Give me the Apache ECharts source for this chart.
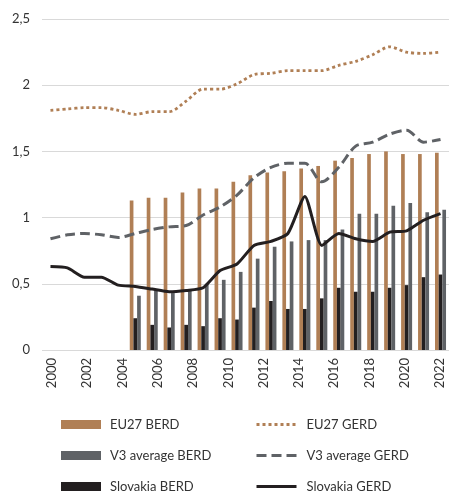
<!DOCTYPE html>
<html>
<head>
<meta charset="utf-8">
<script src="https://cdn.jsdelivr.net/npm/echarts@6/dist/echarts.min.js"></script>
<style>
  html, body { margin: 0; padding: 0; background: #fff; }
  #main_container { width: 449px; height: 494px; }
</style>
</head>
<body>
<div id="main_container"></div>
<script>
// data years (lines 2000-2023, bars from 2005)
var years = ["2000", "2001", "2002", "2003", "2004", "2005", "2006", "2007", "2008", "2009", "2010", "2011",
  "2012", "2013", "2014", "2015", "2016", "2017", "2018", "2019", "2020", "2021", "2022", "2023"];
// tick labels shown under the chart
var tickYears = ["2000", "2001", "2002", "2003", "2004", "2005", "2006", "2007", "2008", "2009", "2010", "2011",
  "2012", "2013", "2014", "2015", "2016", "2017", "2018", "2019", "2020", "2021", "2022"];

var eu27Berd = ["-", "-", "-", "-", "-", 1.13, 1.15, 1.15, 1.19, 1.22, 1.22, 1.27,
  1.32, 1.34, 1.35, 1.37, 1.39, 1.43, 1.45, 1.48, 1.50, 1.48, 1.48, 1.49];
var v3Berd = ["-", "-", "-", "-", "-", 0.41, 0.45, 0.43, 0.45, 0.50, 0.53, 0.59,
  0.69, 0.78, 0.82, 0.83, 0.83, 0.91, 1.03, 1.03, 1.09, 1.11, 1.04, 1.06];
var skBerd = ["-", "-", "-", "-", "-", 0.24, 0.19, 0.17, 0.19, 0.18, 0.24, 0.23,
  0.32, 0.37, 0.31, 0.31, 0.39, 0.47, 0.44, 0.44, 0.47, 0.49, 0.55, 0.57];

var eu27Gerd = [1.81, 1.82, 1.83, 1.83, 1.81, 1.78, 1.80, 1.80, 1.88, 1.97, 1.97, 2.01,
  2.08, 2.09, 2.11, 2.11, 2.11, 2.15, 2.18, 2.23, 2.29, 2.25, 2.24, 2.25];
var v3Gerd = [0.84, 0.87, 0.88, 0.87, 0.85, 0.88, 0.91, 0.93, 0.94, 1.02, 1.08, 1.17,
  1.30, 1.38, 1.41, 1.41, 1.27, 1.38, 1.54, 1.57, 1.63, 1.66, 1.57, 1.59];
var skGerd = [0.63, 0.62, 0.55, 0.55, 0.49, 0.48, 0.46, 0.44, 0.45, 0.47, 0.60, 0.65,
  0.79, 0.82, 0.88, 1.16, 0.79, 0.88, 0.84, 0.82, 0.89, 0.90, 0.98, 1.03];

var barNames = ["EU27 BERD", "V3 average BERD", "Slovakia BERD"];
var lineNames = ["EU27 GERD", "V3 average GERD", "Slovakia GERD"];

var brown = "#b07f55";
var grey = "#5f6266";
var black = "#231f20";
var font = "Lato";

// one legend per item, 3 rows x 2 columns
var legends = [];
var rowTop = [418, 449, 480];
for (var i = 0; i < 3; i++) {
  legends.push({
    left: 61,
    top: rowTop[i],
    padding: 0,
    itemWidth: 40,
    itemHeight: 9,
    icon: "rect",
    data: [barNames[i]],
    textStyle: { fontSize: 13, color: "#333", padding: [0, 0, 0, 4] }
  });
  legends.push({
    left: 255,
    top: rowTop[i],
    padding: 0,
    itemWidth: 40,
    itemHeight: 9,
    itemStyle: { opacity: 0 },
    lineStyle: { width: 3 },
    data: [lineNames[i]],
    textStyle: { fontSize: 13, color: "#333", padding: [0, 0, 0, 5] }
  });
}

var myChart = echarts.init(document.getElementById("main_container"));
myChart.setOption({
  animation: false,
  textStyle: { fontFamily: font },
  grid: [
    { left: 42, top: 19, width: 411, bottom: 144 },
    { left: 43, top: 19, width: 407, bottom: 144 }
  ],
  legend: legends,
  xAxis: [
    {
      gridIndex: 0,
      type: "category",
      data: years,
      show: false
    },
    {
      gridIndex: 1,
      type: "category",
      data: tickYears,
      axisLine: { show: false },
      axisTick: { show: false },
      axisLabel: {
        interval: 1,
        rotate: 90,
        margin: 8,
        fontSize: 13,
        color: "#333"
      }
    }
  ],
  yAxis: [
    {
      gridIndex: 0,
      type: "value",
      min: 0,
      max: 2.5,
      interval: 0.5,
      axisLine: { show: false },
      axisTick: { show: false },
      splitLine: { lineStyle: { color: "#d9d9d9", width: 1 } },
      axisLabel: {
        margin: 12,
        fontSize: 13,
        color: "#333",
        formatter: function (v) { return String(v).replace(".", ","); }
      }
    },
    { gridIndex: 1, type: "value", min: 0, max: 2.5, show: false }
  ],
  series: [
    {
      name: "EU27 BERD",
      type: "bar",
      data: eu27Berd,
      itemStyle: { color: brown },
      barGap: "0%",
      barCategoryGap: "35%"
    },
    {
      name: "Slovakia BERD",
      type: "bar",
      data: skBerd,
      itemStyle: { color: black }
    },
    {
      name: "V3 average BERD",
      type: "bar",
      data: v3Berd,
      itemStyle: { color: grey }
    },
    {
      name: "EU27 GERD",
      type: "line",
      data: eu27Gerd,
      symbol: "none",
      smooth: 0.3,
      z: 5,
      itemStyle: { color: brown },
      lineStyle: { color: brown, width: 2.8, type: [3, 3] }
    },
    {
      name: "V3 average GERD",
      type: "line",
      data: v3Gerd,
      symbol: "none",
      smooth: 0.3,
      z: 5,
      itemStyle: { color: grey },
      lineStyle: { color: grey, width: 3, type: [10, 5] }
    },
    {
      name: "Slovakia GERD",
      type: "line",
      data: skGerd,
      symbol: "none",
      smooth: 0.2,
      z: 6,
      itemStyle: { color: black },
      lineStyle: { color: black, width: 3 }
    }
  ]
});
</script>
</body>
</html>
